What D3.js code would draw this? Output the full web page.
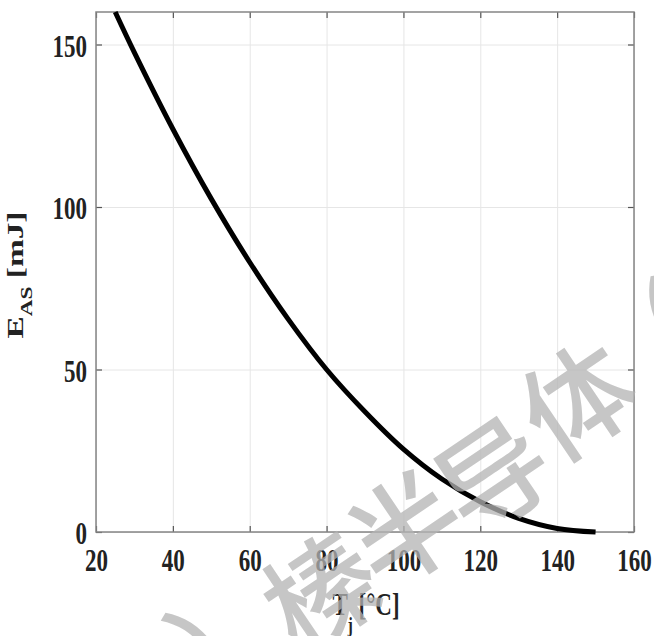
<!DOCTYPE html>
<html>
<head>
<meta charset="utf-8">
<script src="https://cdn.jsdelivr.net/npm/d3@7"></script>
<style>
  body { margin: 0; background: #fff; }
  text { font-family: "Liberation Serif", "Times New Roman", serif; font-weight: bold; fill: #222; }
</style>
</head>
<body>
<div id="vis"></div>
<script>
// data
var tempValues = [25, 30, 40, 50, 60, 70, 80, 90, 100, 110, 120, 130, 140, 150];
var energyValues = [160, 147.5, 124, 102.5, 83, 65.5, 50, 37, 25.5, 16.3, 9.3, 4.2, 1.1, 0];
var xTicks = [20, 40, 60, 80, 100, 120, 140, 160];
var yTicks = [0, 50, 100, 150];
var watermarkChars = ["）", "榛", "半", "导", "体", "（"];
var watermarkPos = [[226, 628], [318, 586], [402, 524], [490, 470], [574, 395], [642, 338]];

var width = 654;
var height = 636;
var margin = { top: 12, right: 20, bottom: 104, left: 96 };
var w = width - margin.left - margin.right;
var h = height - margin.top - margin.bottom;

var svg = d3.select('#vis').append('svg')
  .attr('width', width)
  .attr('height', height);

var g = svg.append('g')
  .attr('transform', 'translate(' + margin.left + ',' + margin.top + ')');

var x = d3.scaleLinear().domain([20, 160]).range([0, w]);
var y = d3.scaleLinear().domain([0, 160]).range([h, 0]);

// grid
g.append('g')
  .attr('transform', 'translate(0,' + h + ')')
  .call(d3.axisBottom(x).tickValues(xTicks).tickSize(-h).tickFormat(''))
  .call(function (s) { s.select('.domain').remove(); })
  .selectAll('line').attr('stroke', '#e6e6e6');

g.append('g')
  .call(d3.axisLeft(y).tickValues(yTicks).tickSize(-w).tickFormat(''))
  .call(function (s) { s.select('.domain').remove(); })
  .selectAll('line').attr('stroke', '#e6e6e6');

// inward ticks on all sides
function inwardTicks(axis, tx, ty) {
  g.append('g')
    .attr('transform', 'translate(' + tx + ',' + ty + ')')
    .call(axis.tickSizeInner(-6).tickSizeOuter(0).tickFormat(''))
    .call(function (s) { s.select('.domain').remove(); })
    .selectAll('line').attr('stroke', '#555').attr('stroke-width', 1.2);
}
inwardTicks(d3.axisBottom(x).tickValues(xTicks), 0, h);
inwardTicks(d3.axisTop(x).tickValues(xTicks), 0, 0);
inwardTicks(d3.axisLeft(y).tickValues(yTicks), 0, 0);
inwardTicks(d3.axisRight(y).tickValues(yTicks), w, 0);

// box
g.append('rect')
  .attr('width', w)
  .attr('height', h)
  .attr('fill', 'none')
  .attr('stroke', '#858585')
  .attr('stroke-width', 1.5);

// tick labels
var xLab = g.append('g')
  .attr('transform', 'translate(0,' + h + ')')
  .call(d3.axisBottom(x).tickValues(xTicks).tickSize(0));
xLab.select('.domain').remove();
xLab.selectAll('text')
  .attr('y', 0).attr('dy', 0)
  .attr('font-size', 23)
  .attr('fill', '#222')
  .attr('transform', 'translate(0,39) scale(1,1.4)');

var yLab = g.append('g')
  .call(d3.axisLeft(y).tickValues(yTicks).tickSize(0));
yLab.select('.domain').remove();
yLab.selectAll('text')
  .attr('x', 0).attr('dy', 0)
  .attr('font-size', 23)
  .attr('fill', '#222')
  .attr('transform', 'translate(-9,11.5) scale(1,1.4)');

// curve
var line = d3.line()
  .x(function (d, i) { return x(tempValues[i]); })
  .y(function (d) { return y(d); })
  .curve(d3.curveCatmullRom.alpha(0.5));

g.append('path')
  .datum(energyValues)
  .attr('d', line)
  .attr('fill', 'none')
  .attr('stroke', '#000')
  .attr('stroke-width', 5)
  .attr('stroke-linecap', 'butt');

// axis titles
var xt = svg.append('text')
  .attr('transform', 'translate(366,615) scale(1,1.4)')
  .attr('text-anchor', 'middle')
  .attr('font-size', 23);
xt.append('tspan').text('T');
xt.append('tspan').attr('font-size', 15).attr('dy', 12).text('j');
xt.append('tspan').attr('dy', -12).text(' [°C]');

var yt = svg.append('text')
  .attr('transform', 'translate(23,275) scale(1,1.45) rotate(-90)')
  .attr('text-anchor', 'middle')
  .attr('font-size', 23);
yt.append('tspan').text('E');
yt.append('tspan').attr('font-size', 16).attr('dy', 9).text('AS');
yt.append('tspan').attr('dy', -9).text('  [mJ]');

// watermark
svg.append('g').selectAll('text')
  .data(watermarkChars)
  .enter().append('text')
  .attr('transform', function (d, i) {
    return 'translate(' + watermarkPos[i][0] + ',' + watermarkPos[i][1] + ') rotate(-34)';
  })
  .attr('text-anchor', 'middle')
  .attr('dominant-baseline', 'central')
  .style('font-family', '"Noto Sans CJK SC", sans-serif')
  .style('font-weight', '500')
  .style('fill', '#b4b4b4')
  .style('opacity', 0.75)
  .attr('font-size', 110)
  .text(function (d) { return d; });
</script>
</body>
</html>
